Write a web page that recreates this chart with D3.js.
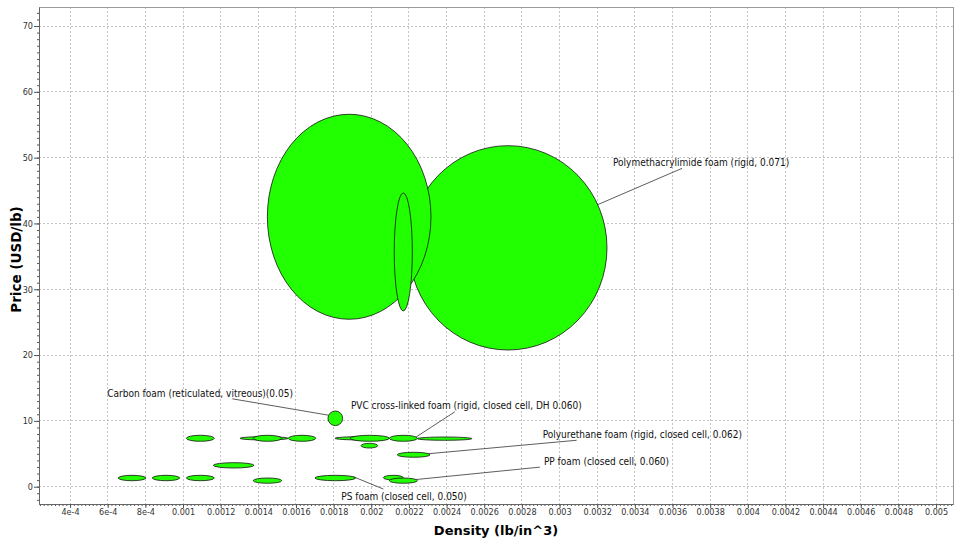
<!DOCTYPE html>
<html>
<head>
<meta charset="utf-8">
<script src="https://cdn.jsdelivr.net/npm/d3@7"></script>
<style>
  body { margin: 0; background: #fff; }
  svg { display: block; }
  .tick text { font-family: "DejaVu Sans Condensed", "DejaVu Sans", sans-serif; font-size: 9px; fill: #333; }
  .lbl { font-family: "DejaVu Sans Condensed", "DejaVu Sans", sans-serif; font-size: 10px; fill: #111; }
  .title { font-family: "DejaVu Sans", sans-serif; font-size: 13px; font-weight: bold; fill: #000; }
</style>
</head>
<body>
<svg id="chart" width="960" height="544"></svg>
<script>
// foam families: density range (lb/in^3) and price range (USD/lb), in draw order
const names = [
  "Polymethacrylimide foam (rigid, 0.071)",
  "PVC foam (rigid, high density)",
  "PEI foam",
  "Foam A", "Foam B", "Foam C", "Foam D", "Foam E", "Foam F", "Foam G",
  "Foam H", "Foam I",
  "PS foam (closed cell, 0.050)",
  "Foam J", "Foam K", "Foam L",
  "PVC cross-linked foam (rigid, closed cell, DH 0.060)",
  "Foam M",
  "Polyurethane foam (rigid, closed cell, 0.062)",
  "Foam N",
  "PP foam (closed cell, 0.060)",
  "Carbon foam (reticulated, vitreous)(0.05)"
];
const densityLow  = [0.002201, 0.001448, 0.002122, 0.000656, 0.000837, 0.001018, 0.001018, 0.001303, 0.001373, 0.001559,
                     0.001161, 0.001373, 0.001701, 0.001807, 0.001887, 0.001946, 0.002096, 0.002245, 0.002138, 0.002064,
                     0.002096, 0.001770];
const densityHigh = [0.003252, 0.002317, 0.002218, 0.000802, 0.000982, 0.001166, 0.001166, 0.001558, 0.001524, 0.001705,
                     0.001377, 0.001524, 0.001917, 0.002091, 0.002096, 0.002034, 0.002245, 0.002534, 0.002312, 0.002170,
                     0.002245, 0.001848];
const priceLow    = [20.77, 25.44, 26.70, 0.91, 0.91, 0.91, 6.90, 7.10, 6.90, 6.90,
                     2.84, 0.52, 0.91, 7.10, 6.90, 5.88, 6.90, 7.05, 4.47, 1.02,
                     0.52, 9.28];
const priceHigh   = [51.82, 56.59, 44.63, 1.73, 1.73, 1.73, 7.81, 7.60, 7.81, 7.81,
                     3.65, 1.32, 1.73, 7.60, 7.81, 6.59, 7.81, 7.55, 5.23, 1.73,
                     1.32, 11.50];

// which families carry a callout
const labelled = [0, 12, 16, 18, 20, 21];

const xTickValues = [0.0004, 0.0006, 0.0008, 0.001, 0.0012, 0.0014, 0.0016, 0.0018, 0.002, 0.0022, 0.0024,
                     0.0026, 0.0028, 0.003, 0.0032, 0.0034, 0.0036, 0.0038, 0.004, 0.0042, 0.0044, 0.0046, 0.0048, 0.005];
const xTickLabels = ["4e-4", "6e-4", "8e-4", "0.001", "0.0012", "0.0014", "0.0016", "0.0018", "0.002", "0.0022", "0.0024",
                     "0.0026", "0.0028", "0.003", "0.0032", "0.0034", "0.0036", "0.0038", "0.004", "0.0042", "0.0044", "0.0046", "0.0048", "0.005"];
const yTickValues = [0, 10, 20, 30, 40, 50, 60, 70];

// callout placement, pixels: text start/centre relative to the ellipse centre, leader anchor relative to text
const calloutLayout = {
  0:  { dx: 105, dy: -85.5, ax: 69, ay: 6, side: 1 },
  12: { dx: 6, dy: 18, ax: 42, ay: -7, side: 1 },
  16: { dx: -52.5, dy: -32.5, ax: 104, ay: 6, side: 1 },
  18: { dx: 129, dy: -20.5, ax: 34, ay: 6, side: 1 },
  20: { dx: 140.5, dy: -19.5, ax: -4, ay: 6, side: 1 },
  21: { dx: -228, dy: -24.5, ax: 125, ay: 5, side: -1 }
};

const svg = d3.select("#chart");
const margin = { top: 7, right: 7, bottom: 40, left: 39 };
const width = 960 - margin.left - margin.right;
const height = 544 - margin.top - margin.bottom;

const x = d3.scaleLinear().domain([0.000235, 0.00509]).range([0, width]);
const y = d3.scaleLinear().domain([-2.63, 72.89]).range([height, 0]);

const g = svg.append("g").attr("transform", `translate(${margin.left},${margin.top})`);

// grid
g.append("g").selectAll("line").data(xTickValues).enter().append("line")
  .attr("x1", d => x(d)).attr("x2", d => x(d)).attr("y1", 0).attr("y2", height)
  .attr("stroke", "#c4c4c4").attr("stroke-dasharray", "2,2").attr("shape-rendering", "crispEdges");
g.append("g").selectAll("line").data(yTickValues).enter().append("line")
  .attr("x1", 0).attr("x2", width).attr("y1", d => y(d)).attr("y2", d => y(d))
  .attr("stroke", "#c4c4c4").attr("stroke-dasharray", "2,2").attr("shape-rendering", "crispEdges");

// frame
g.append("rect").attr("width", width).attr("height", height)
  .attr("fill", "none").attr("stroke", "#9a9a9a").attr("shape-rendering", "crispEdges");

// minor ticks
const xMinor = d3.range(12, 255).map(i => i * 0.00002).filter(v => v >= x.domain()[0] && v <= x.domain()[1]);
const yMinor = d3.range(-2, 73);
g.append("g").attr("transform", `translate(0,${height})`)
  .call(d3.axisBottom(x).tickValues(xMinor).tickSize(2).tickSizeOuter(0).tickFormat(""))
  .call(a => a.select(".domain").remove())
  .selectAll("line").attr("stroke", "#555");
g.append("g")
  .call(d3.axisLeft(y).tickValues(yMinor).tickSize(2).tickSizeOuter(0).tickFormat(""))
  .call(a => a.select(".domain").remove())
  .selectAll("line").attr("stroke", "#555");

// X Axis
g.append("g").attr("transform", `translate(0,${height})`)
  .call(d3.axisBottom(x).tickValues(xTickValues).tickFormat((d, i) => xTickLabels[i]).tickSize(4).tickPadding(1).tickSizeOuter(0))
  .call(a => a.select(".domain").attr("stroke", "#666"))
  .selectAll("line").attr("stroke", "#555");

// Y Axis
g.append("g")
  .call(d3.axisLeft(y).tickValues(yTickValues).tickSize(5).tickPadding(1).tickSizeOuter(0))
  .call(a => a.select(".domain").attr("stroke", "#666"))
  .selectAll("line").attr("stroke", "#555");

// ellipses
const geo = names.map((n, i) => ({
  i,
  cx: (x(densityLow[i]) + x(densityHigh[i])) / 2,
  cy: (y(priceLow[i]) + y(priceHigh[i])) / 2,
  rx: (x(densityHigh[i]) - x(densityLow[i])) / 2,
  ry: (y(priceLow[i]) - y(priceHigh[i])) / 2
}));

g.append("g").selectAll("ellipse").data(geo).enter().append("ellipse")
  .attr("cx", d => d.cx).attr("cy", d => d.cy)
  .attr("rx", d => d.rx).attr("ry", d => d.ry)
  .attr("fill", "#22ff00").attr("stroke", "#111").attr("stroke-width", 0.8);

// callouts
const t = 25 * Math.PI / 180;
const callouts = labelled.map(i => {
  const e = geo[i], L = calloutLayout[i];
  const tx = e.cx + L.dx, ty = e.cy + L.dy;
  return {
    text: names[i], tx, ty,
    x1: tx + L.ax, y1: ty + L.ay,
    x2: e.cx + L.side * Math.cos(t) * e.rx, y2: e.cy - Math.sin(t) * e.ry
  };
});

g.append("g").selectAll("line").data(callouts).enter().append("line")
  .attr("x1", d => d.x1).attr("y1", d => d.y1).attr("x2", d => d.x2).attr("y2", d => d.y2)
  .attr("stroke", "#333").attr("stroke-width", 0.8);

g.append("g").selectAll("text").data(callouts).enter().append("text")
  .attr("class", "lbl")
  .attr("x", d => d.tx).attr("y", d => d.ty).attr("dy", "0.35em")
  .text(d => d.text);

// axis titles
svg.append("text").attr("class", "title")
  .attr("x", margin.left + width / 2).attr("y", 535)
  .attr("text-anchor", "middle")
  .text("Density (lb/in^3)");
svg.append("text").attr("class", "title")
  .style("font-size", "13.5px")
  .attr("transform", `translate(21,${margin.top + height / 2 + 4}) rotate(-90)`)
  .attr("text-anchor", "middle")
  .text("Price (USD/lb)");
</script>
</body>
</html>
